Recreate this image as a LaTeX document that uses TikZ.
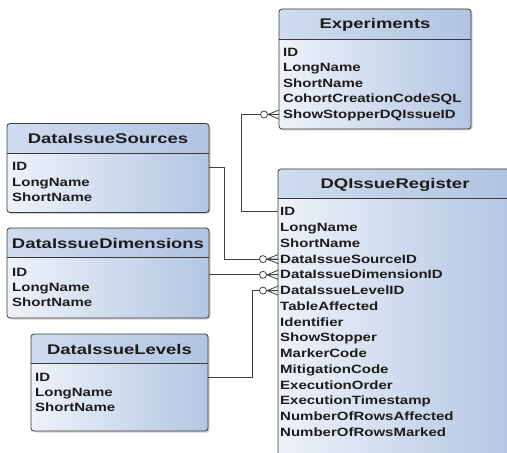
\documentclass[tikz,border=0pt]{standalone}
\usepackage{fontspec}
\usepackage{tikz}
\usetikzlibrary{shadows}
\newfontfamily\rowfont[FakeStretch=1.25]{Liberation Sans}
\newfontfamily\headfont[FakeStretch=1.32]{Liberation Sans}
\definecolor{boxline}{HTML}{3A3A3A}
\definecolor{bodyleft}{HTML}{EEF2F9}
\definecolor{bodyright}{HTML}{B3C6E2}
\definecolor{headleft}{HTML}{D0DCEF}
\definecolor{headright}{HTML}{B0C4E1}
\definecolor{textdark}{HTML}{1C1C1C}
\definecolor{connline}{HTML}{404040}
\tikzset{
  tablebox/.style={anchor=north west, inner sep=0pt, outer sep=0pt, rounded corners=3pt,
    left color=bodyleft, right color=bodyright,
    drop shadow={shadow xshift=1.5bp, shadow yshift=-1.5bp, opacity=0.35}},
  headshade/.style={left color=headleft, right color=headright},
  boxborder/.style={draw=boxline, line width=0.8bp},
  headtext/.style={font=\headfont\bfseries\fontsize{14bp}{16bp}\selectfont, text=textdark,
    inner sep=0pt, text height=10bp, text depth=0bp},
  rowtext/.style={font=\rowfont\bfseries\fontsize{12bp}{14bp}\selectfont, text=textdark,
    anchor=west, inner sep=0pt, text height=9bp, text depth=1bp},
  conn/.style={draw=connline, line width=0.8bp},
  crowfoot/.pic={
    \draw[conn] (-11,0) -- (0,4.5) (-11,0) -- (0,0) (-11,0) -- (0,-4.5);
    \draw[conn, fill=white] (-15,0) circle (3.5bp);
  }
}
\begin{document}
\begin{tikzpicture}[x=1bp, y=-1bp]
  \useasboundingbox (0,0) rectangle (507,453);

  % Experiments
  \node[tablebox, minimum width=192bp, minimum height=120bp] (expbox) at (279,9) {};
  \begin{scope}
    \clip[rounded corners=3pt] (expbox.north west) rectangle (expbox.south east);
    \shade[headshade] (expbox.north west) rectangle ([yshift=-30bp]expbox.north east);
  \end{scope}
  \draw[boxborder] ([yshift=-30bp]expbox.north west) -- ([yshift=-30bp]expbox.north east);
  \draw[boxborder, rounded corners=3pt] (expbox.north west) rectangle (expbox.south east);
  \node[headtext] (exptitle) at ([yshift=-15bp]expbox.north) {Experiments};
  \node[rowtext] (expid) at (283,52.5) {ID};
  \node[rowtext] (explong) at (283,68) {LongName};
  \node[rowtext] (expshort) at (283,83.5) {ShortName};
  \node[rowtext] (expcohort) at (283,99) {CohortCreationCodeSQL};
  \node[rowtext] (expstop) at (283,114.5) {ShowStopperDQIssueID};

  % DataIssueSources
  \node[tablebox, minimum width=202bp, minimum height=89bp] (srcbox) at (7,123.5) {};
  \begin{scope}
    \clip[rounded corners=3pt] (srcbox.north west) rectangle (srcbox.south east);
    \shade[headshade] (srcbox.north west) rectangle ([yshift=-29.5bp]srcbox.north east);
  \end{scope}
  \draw[boxborder] ([yshift=-29.5bp]srcbox.north west) -- ([yshift=-29.5bp]srcbox.north east);
  \draw[boxborder, rounded corners=3pt] (srcbox.north west) rectangle (srcbox.south east);
  \node[headtext] (srctitle) at ([yshift=-15bp]srcbox.north) {DataIssueSources};
  \node[rowtext] (srcid) at (12,167) {ID};
  \node[rowtext] (srclong) at (12,182.4) {LongName};
  \node[rowtext] (srcshort) at (12,197.8) {ShortName};

  % DataIssueDimensions
  \node[tablebox, minimum width=202bp, minimum height=90bp] (dimbox) at (7,228) {};
  \begin{scope}
    \clip[rounded corners=3pt] (dimbox.north west) rectangle (dimbox.south east);
    \shade[headshade] (dimbox.north west) rectangle ([yshift=-29bp]dimbox.north east);
  \end{scope}
  \draw[boxborder] ([yshift=-29bp]dimbox.north west) -- ([yshift=-29bp]dimbox.north east);
  \draw[boxborder, rounded corners=3pt] (dimbox.north west) rectangle (dimbox.south east);
  \node[headtext] (dimtitle) at ([yshift=-15bp]dimbox.north) {DataIssueDimensions};
  \node[rowtext] (dimid) at (12,272) {ID};
  \node[rowtext] (dimlong) at (12,287.4) {LongName};
  \node[rowtext] (dimshort) at (12,302.8) {ShortName};

  % DataIssueLevels
  \node[tablebox, minimum width=177bp, minimum height=97bp] (lvlbox) at (31,334) {};
  \begin{scope}
    \clip[rounded corners=3pt] (lvlbox.north west) rectangle (lvlbox.south east);
    \shade[headshade] (lvlbox.north west) rectangle ([yshift=-29bp]lvlbox.north east);
  \end{scope}
  \draw[boxborder] ([yshift=-29bp]lvlbox.north west) -- ([yshift=-29bp]lvlbox.north east);
  \draw[boxborder, rounded corners=3pt] (lvlbox.north west) rectangle (lvlbox.south east);
  \node[headtext] (lvltitle) at ([yshift=-15bp]lvlbox.north) {DataIssueLevels};
  \node[rowtext] (lvlid) at (35,377) {ID};
  \node[rowtext] (lvllong) at (35,392.4) {LongName};
  \node[rowtext] (lvlshort) at (35,407.8) {ShortName};

  % DQIssueRegister
  \node[tablebox, minimum width=234bp, minimum height=290bp] (dqbox) at (278,169) {};
  \begin{scope}
    \clip[rounded corners=3pt] (dqbox.north west) rectangle (dqbox.south east);
    \shade[headshade] (dqbox.north west) rectangle ([yshift=-29bp]dqbox.north east);
  \end{scope}
  \draw[boxborder] ([yshift=-29bp]dqbox.north west) -- ([yshift=-29bp]dqbox.north east);
  \draw[boxborder, rounded corners=3pt] (dqbox.north west) rectangle (dqbox.south east);
  \node[headtext] (dqtitle) at ([yshift=-15bp]dqbox.north) {DQIssueRegister};
  \node[rowtext] (dqid) at (280,211.8) {ID};
  \node[rowtext] (dqlong) at (280,227.6) {LongName};
  \node[rowtext] (dqshort) at (280,243.3) {ShortName};
  \node[rowtext] (dqsrc) at (280,259.1) {DataIssueSourceID};
  \node[rowtext] (dqdim) at (280,274.8) {DataIssueDimensionID};
  \node[rowtext] (dqlvl) at (280,290.6) {DataIssueLevelID};
  \node[rowtext] (dqtable) at (280,306.4) {TableAffected};
  \node[rowtext] (dqident) at (280,322.1) {Identifier};
  \node[rowtext] (dqshow) at (280,337.9) {ShowStopper};
  \node[rowtext] (dqmarker) at (280,353.6) {MarkerCode};
  \node[rowtext] (dqmitig) at (280,369.4) {MitigationCode};
  \node[rowtext] (dqorder) at (280,385.2) {ExecutionOrder};
  \node[rowtext] (dqstamp) at (280,400.9) {ExecutionTimestamp};
  \node[rowtext] (dqaffect) at (280,416.7) {NumberOfRowsAffected};
  \node[rowtext] (dqmarked) at (280,432.5) {NumberOfRowsMarked};

  % relations
  \draw[conn] (expbox.west |- expstop) -- ++(-38,0) |- (dqbox.west |- dqid);
  \draw[conn] (srcbox.east |- srcid) -- ++(15,0) |- (dqbox.west |- dqsrc);
  \draw[conn] (dimbox.east |- dqdim) -- (dqbox.west |- dqdim);
  \draw[conn] (lvlbox.east |- lvlid) -- ++(44,0) |- (dqbox.west |- dqlvl);
  \pic at (expbox.west |- expstop) {crowfoot};
  \pic at (dqbox.west |- dqsrc) {crowfoot};
  \pic at (dqbox.west |- dqdim) {crowfoot};
  \pic at (dqbox.west |- dqlvl) {crowfoot};
\end{tikzpicture}
\end{document}
